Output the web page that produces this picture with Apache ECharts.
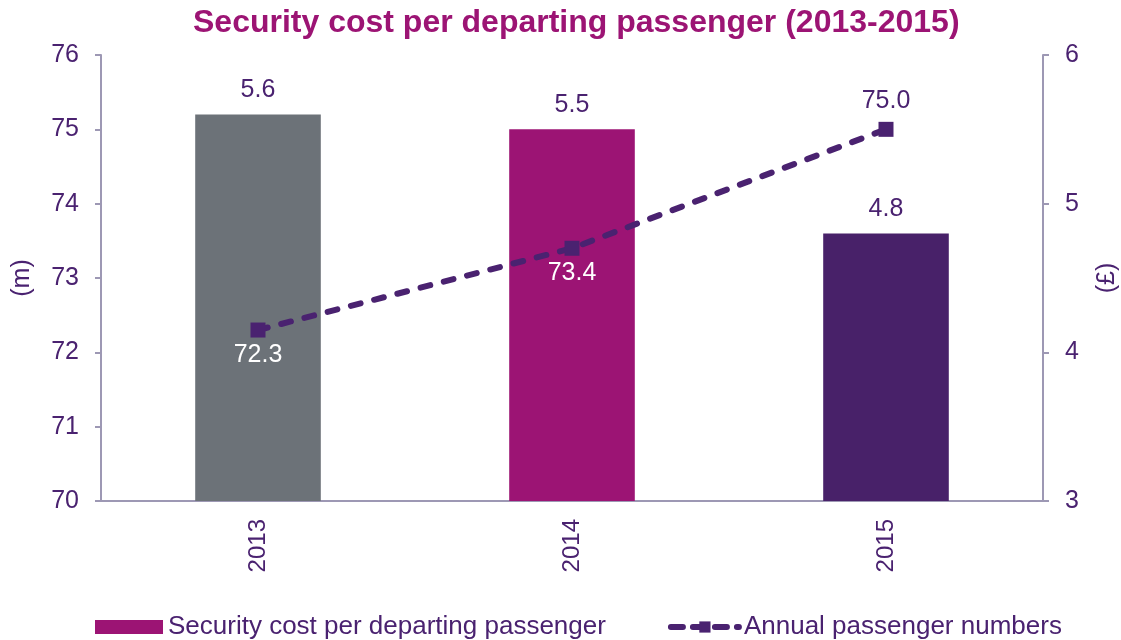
<!DOCTYPE html>
<html>
<head>
<meta charset="utf-8">
<script src="https://cdn.jsdelivr.net/npm/echarts@6/dist/echarts.min.js"></script>
<style>
  html, body { margin: 0; padding: 0; background: #fff; }
  #main { width: 1121px; height: 640px; }
</style>
</head>
<body>
<div id="main"></div>
<script>
// data
var years = ['2013', '2014', '2015'];
var costPerPassenger = [5.6, 5.5, 4.8];      // £, right axis
var passengerNumbers = [72.3, 73.4, 75.0];   // m, left axis
var barColors = ['#6C7278', '#9C1474', '#482169'];

var txt = '#4A2270';
var axisCol = '#9D98B4';
var font = '"Liberation Sans", Arial, sans-serif';

var barData = costPerPassenger.map(function (v, i) {
  return { value: v, itemStyle: { color: barColors[i] } };
});
var lineData = passengerNumbers.map(function (v, i) {
  var last = i === passengerNumbers.length - 1;
  return {
    value: v,
    label: last ? { position: 'top', color: txt, distance: 8 } : { position: 'bottom', color: '#ffffff', distance: 5 }
  };
});

var chart = echarts.init(document.getElementById('main'));
chart.setOption({
  textStyle: { fontFamily: font },
  animation: false,
  title: {
    text: 'Security cost per departing passenger (2013-2015)',
    left: 188,
    top: 2,
    textStyle: { color: '#9C1474', fontSize: 32, fontWeight: 'bold', fontFamily: font }
  },
  legend: {
    left: 90,
    top: 609,
    itemWidth: 68,
    itemHeight: 14,
    itemGap: 62,
    textStyle: { color: txt, fontSize: 26, fontFamily: font },
    data: [
      { name: 'Security cost per departing passenger', icon: 'rect', itemStyle: { color: '#9C1474' } },
      { name: 'Annual passenger numbers', lineStyle: { width: 6, type: [12, 10], cap: 'round' } }
    ]
  },
  grid: { left: 101, right: 78, top: 55, bottom: 139, outerBoundsMode: 'none' },
  xAxis: {
    type: 'category',
    data: years,
    axisLine: { lineStyle: { color: axisCol, width: 2 } },
    axisTick: { length: 6, lineStyle: { color: axisCol, width: 2 } },
    axisLabel: { rotate: 90, margin: 18, color: txt, fontSize: 24, fontFamily: font }
  },
  yAxis: [
    {
      type: 'value',
      min: 70, max: 76, interval: 1,
      name: '(m)',
      nameLocation: 'middle',
      nameGap: 66,
      nameRotate: 90,
      nameTextStyle: { color: txt, fontSize: 25, fontFamily: font },
      axisLine: { show: true, lineStyle: { color: axisCol, width: 2 } },
      axisTick: { show: true, length: 6, lineStyle: { color: axisCol, width: 2 } },
      axisLabel: { margin: 22, color: txt, fontSize: 25, fontFamily: font },
      splitLine: { show: false }
    },
    {
      type: 'value',
      min: 3, max: 6, interval: 1,
      name: '(£)',
      nameLocation: 'middle',
      nameGap: 52,
      nameRotate: 90,
      nameTextStyle: { color: txt, fontSize: 25, fontFamily: font },
      axisLine: { show: true, lineStyle: { color: axisCol, width: 2 } },
      axisTick: { show: true, length: 6, lineStyle: { color: axisCol, width: 2 } },
      axisLabel: { margin: 22, color: txt, fontSize: 25, fontFamily: font },
      splitLine: { show: false }
    }
  ],
  series: [
    {
      name: 'Security cost per departing passenger',
      type: 'bar',
      yAxisIndex: 1,
      barWidth: '40%',
      data: barData,
      label: {
        show: true,
        position: 'top',
        distance: 12,
        color: txt,
        fontSize: 25,
        fontFamily: font,
        formatter: function (p) { return p.value.toFixed(1); }
      }
    },
    {
      name: 'Annual passenger numbers',
      type: 'line',
      yAxisIndex: 0,
      data: lineData,
      symbol: 'rect',
      symbolSize: 15,
      itemStyle: { color: '#4A2270' },
      lineStyle: { color: '#4A2270', width: 6, type: [10, 14], cap: 'round' },
      label: {
        show: true,
        fontSize: 25,
        fontFamily: font,
        formatter: function (p) { return p.value.toFixed(1); }
      },
      z: 5
    }
  ]
});
</script>
</body>
</html>
